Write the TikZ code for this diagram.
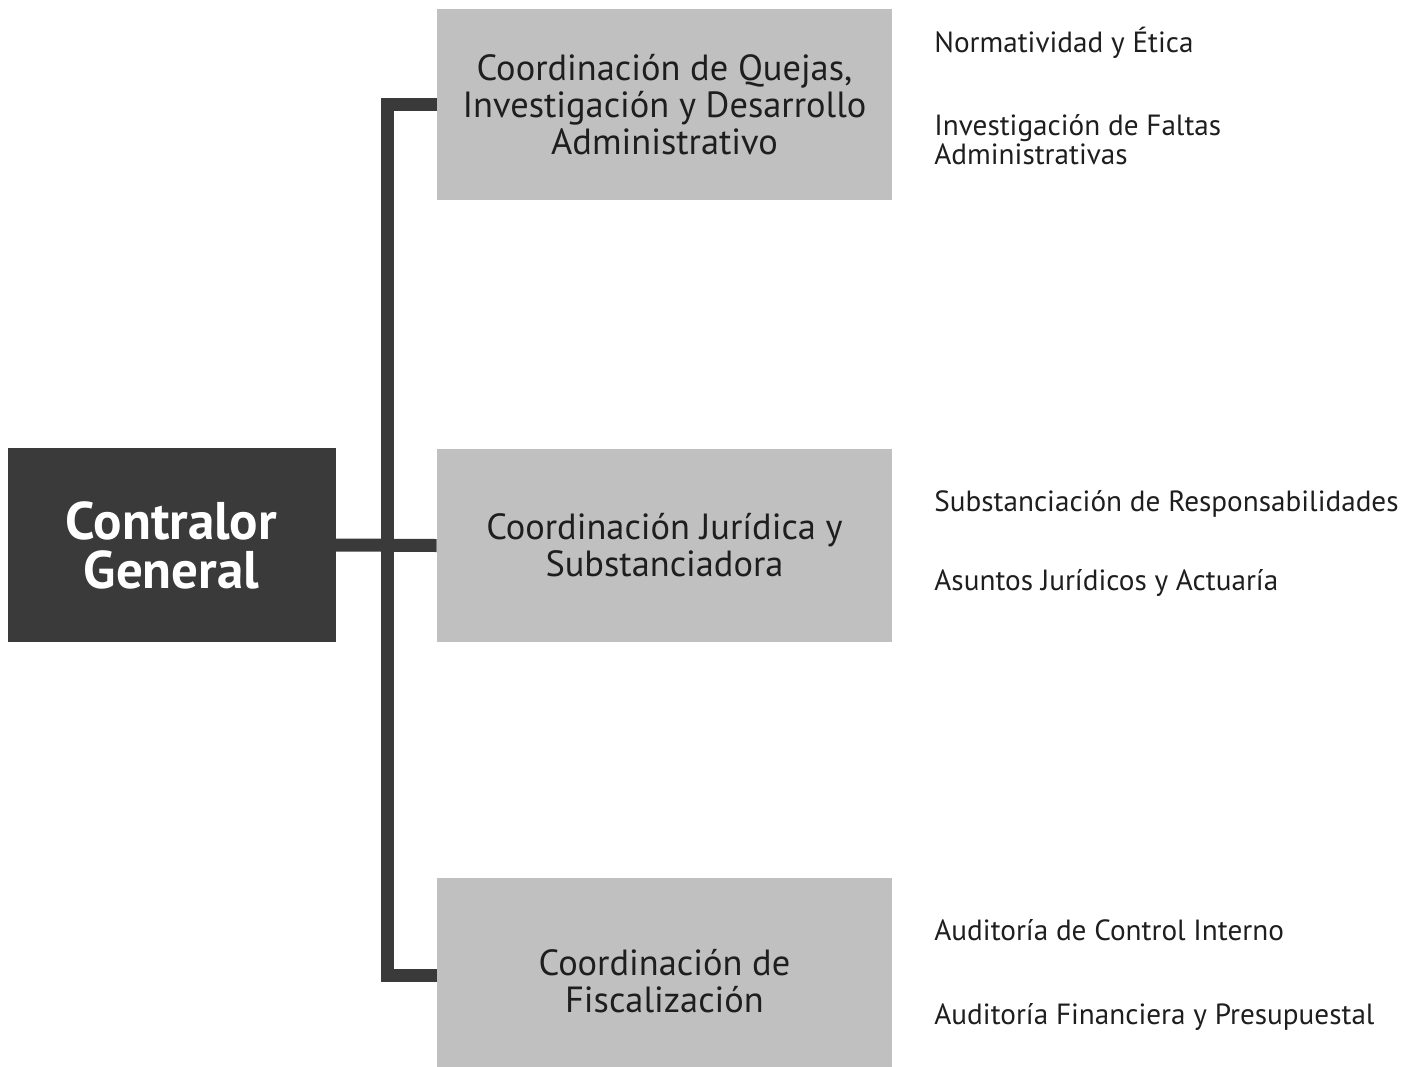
\documentclass[tikz,border=0pt]{standalone}
\usepackage{fontspec}
\setmainfont{PT Sans}
\definecolor{oscuro}{HTML}{3A3A3A}
\definecolor{gris}{HTML}{C0C0C0}
\definecolor{texto}{HTML}{1E1E1E}
\tikzset{
  jefe/.style={fill=oscuro,text=white,inner sep=0pt,minimum width=164pt,minimum height=97pt,
    align=center,font=\fontsize{26.5}{24.5}\selectfont\bfseries},
  coord/.style={fill=gris,text=texto,inner sep=0pt,minimum width=227.5pt,
    align=center,font=\fontsize{18.2}{18.5}\selectfont},
  area/.style={anchor=west,inner sep=0pt,align=left,text=texto,
    font=\fontsize{14.6}{14.5}\selectfont},
  linea/.style={oscuro,line width=6.5pt}
}
\begin{document}
\begin{tikzpicture}[x=0.5pt,y=-0.5pt]
\useasboundingbox (0,0) rectangle (1418,1066);
\node[jefe] (cg) at (171.5,545) {Contralor\\General};
\node[coord,minimum height=95.5pt] (q) at (664.5,104.5) {Coordinación de Quejas,\\Investigación y Desarrollo\\Administrativo};
\node[coord,minimum height=96.5pt] (j) at (664.5,545.5) {Coordinación Jurídica y\\Substanciadora};
\node[coord,minimum height=103pt] (f) at (664.5,981) {Coordinación de\\Fiscalización};
\coordinate (eje) at (387,545);
\draw[linea] (q.west) -| (eje |- 0,975) -- (f.west |- 0,975);
\draw[linea] (cg.east) -- (j.west);
\node[area] (a1) at (934,43) {Normatividad y Ética};
\node[area] (a2) at (934,140) {Investigación de Faltas\\Administrativas};
\node[area] (a3) at (934,504) {Substanciación de Responsabilidades};
\node[area] (a4) at (934,583) {Asuntos Jurídicos y Actuaría};
\node[area] (a5) at (934,930) {Auditoría de Control Interno};
\node[area] (a6) at (934,1017) {Auditoría Financiera y Presupuestal};
\end{tikzpicture}
\end{document}
